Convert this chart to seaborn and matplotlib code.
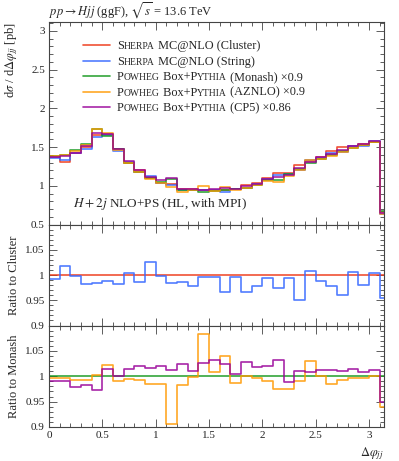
import numpy as np
import pandas as pd
import matplotlib
matplotlib.use("Agg")
import matplotlib.pyplot as plt
import seaborn as sns
from matplotlib.ticker import MultipleLocator, FuncFormatter

# bin edges in delta phi_jj (last bin ends at pi)
edges = [0.0, 0.1, 0.2, 0.3, 0.4, 0.5, 0.6, 0.7, 0.8, 0.9, 1.0, 1.1, 1.2, 1.3, 1.4, 1.5,
         1.6, 1.7, 1.8, 1.9, 2.0, 2.1, 2.2, 2.3, 2.4, 2.5, 2.6, 2.7, 2.8, 2.9, 3.0, 3.1, np.pi]

# Sherpa cluster (absolute, pb)
cluster = [1.37, 1.31, 1.42, 1.50, 1.66, 1.67, 1.48, 1.30, 1.20, 1.10, 1.04, 1.02, 0.96, 0.96,
           0.95, 0.95, 0.95, 0.96, 1.01, 1.04, 1.10, 1.165, 1.165, 1.27, 1.32, 1.37, 1.45,
           1.50, 1.51, 1.54, 1.57, 0.66]
# Sherpa string / cluster
ratio_string = [0.992, 1.018, 0.999, 0.982, 0.984, 0.988, 0.983, 1.004, 0.987, 1.026, 0.998,
                0.985, 0.987, 0.979, 0.997, 0.9965, 0.967, 0.997, 0.967, 0.978, 0.994, 0.974,
                0.994, 0.950, 1.008, 0.988, 0.979, 0.960, 1.005, 0.981, 1.003, 0.954]
# Powheg+Pythia Monash (x0.9, absolute)
monash = [1.39, 1.40, 1.46, 1.54, 1.73, 1.645, 1.47, 1.30, 1.18, 1.10, 1.05, 1.085, 0.94, 0.95,
          0.915, 0.93, 0.95, 0.96, 0.97, 1.01, 1.07, 1.08, 1.15, 1.22, 1.30, 1.35, 1.40, 1.45,
          1.49, 1.53, 1.56, 0.68]
# AZNLO / Monash
ratio_aznlo = [0.997, 0.997, 0.992, 0.992, 1.003, 1.023, 0.991, 0.995, 0.993, 0.984, 0.985,
               0.905, 0.983, 0.999, 1.083, 1.008, 1.040, 0.987, 1.000, 0.997, 0.991, 0.975,
               0.975, 0.991, 1.030, 1.000, 0.985, 0.992, 0.997, 0.997, 1.001, 0.939]
# CP5 / Monash
ratio_cp5 = [0.991, 0.991, 0.978, 0.983, 0.973, 1.015, 1.000, 1.015, 1.020, 1.017, 1.020,
             1.012, 1.025, 1.010, 1.027, 1.032, 1.025, 1.005, 1.029, 1.018, 1.020, 1.033,
             0.988, 1.010, 1.009, 1.012, 1.012, 1.011, 1.015, 1.009, 1.013, 0.950]

c_red, c_blue, c_green, c_orange, c_purple = "#EE3311", "#3366FF", "#109618", "#FF9900", "#990099"

sns.set_theme(style="ticks")
plt.rcParams["font.family"] = ["Liberation Serif", "DejaVu Serif"]
plt.rcParams["mathtext.fontset"] = "stix"
plt.rcParams["axes.edgecolor"] = "#444444"
plt.rcParams["xtick.color"] = "#444444"
plt.rcParams["ytick.color"] = "#444444"
plt.rcParams["xtick.labelcolor"] = "#222222"
plt.rcParams["ytick.labelcolor"] = "#222222"

fig = plt.figure(figsize=(3.99, 4.61), dpi=100)
left, width = 0.1228, 0.8396
ax1 = fig.add_axes([left, 0.5130, width, 0.9523 - 0.5130])
ax2 = fig.add_axes([left, 0.2939, width, 0.5130 - 0.2939])
ax3 = fig.add_axes([left, 0.0738, width, 0.2939 - 0.0738])


def hist(ax, vals, color, z=2):
    df = pd.DataFrame({"x": edges, "y": list(vals) + [vals[-1]]})
    sns.lineplot(data=df, x="x", y="y", drawstyle="steps-post", color=color,
                 lw=1.2, alpha=0.85, ax=ax, legend=False, zorder=z)


string = np.array(cluster) * np.array(ratio_string)
aznlo = np.array(monash) * np.array(ratio_aznlo)
cp5 = np.array(monash) * np.array(ratio_cp5)

hist(ax1, cluster, c_red)
hist(ax1, string, c_blue)
hist(ax1, monash, c_green)
hist(ax1, aznlo, c_orange)
hist(ax1, cp5, c_purple)

hist(ax2, [1.0] * len(cluster), c_red)
hist(ax2, ratio_string, c_blue)

hist(ax3, [1.0] * len(monash), c_green)
hist(ax3, ratio_aznlo, c_orange)
hist(ax3, ratio_cp5, c_purple)

fmt = FuncFormatter(lambda v, p: "%g" % round(v, 3))
for ax in (ax1, ax2, ax3):
    ax.set_xlim(0, np.pi)
    ax.xaxis.set_major_locator(MultipleLocator(0.5))
    ax.xaxis.set_minor_locator(MultipleLocator(0.1))
    ax.tick_params(which="both", direction="in", top=True, right=True, labelsize=8,
                   width=0.6, pad=3)
    ax.tick_params(which="major", length=6)
    ax.tick_params(which="minor", length=3)
    ax.yaxis.set_major_formatter(fmt)
    ax.xaxis.set_major_formatter(fmt)
    ax.set_xlabel("")
    for s in ax.spines.values():
        s.set_linewidth(0.8)

ax1.set_ylim(0.5, 3.115)
ax1.yaxis.set_major_locator(MultipleLocator(0.5))
ax1.yaxis.set_minor_locator(MultipleLocator(0.1))
ax1.tick_params(labelbottom=False)
ax2.tick_params(labelbottom=False)

for ax in (ax2, ax3):
    ax.set_ylim(0.9, 1.1)
    ax.set_yticks([0.9, 0.95, 1.0, 1.05])
    ax.yaxis.set_minor_locator(MultipleLocator(0.01))

ax1.set_ylabel(r"d$\sigma$ / d$\Delta\varphi_{jj}$ [pb]", fontsize=9, loc="top")
ax2.set_ylabel("Ratio to Cluster", fontsize=9)
ax3.set_ylabel("Ratio to Monash", fontsize=9)
for ax in (ax1, ax2, ax3):
    ax.yaxis.set_label_coords(-0.088, 1.0 if ax is ax1 else 0.5)
ax3.set_xlabel(r"$\Delta\varphi_{jj}$", fontsize=9, loc="right")

ax1.text(0.0, 1.03, r"$pp \rightarrow Hjj$ (ggF), $\sqrt{s}$ = 13.6 TeV",
         transform=ax1.transAxes, fontsize=9, ha="left", va="baseline")
ax1.text(0.072, 0.086, r"$H + 2j$ NLO+PS (HL, with MPI)", transform=ax1.transAxes,
         fontsize=9.5, ha="left", va="baseline")

# legend with small caps built from text pieces
renderer = fig.canvas.get_renderer()
inv = ax1.transAxes.inverted()
full, small = 8.8, 6.9
legend_rows = [
    (c_red, [("S", full), ("HERPA", small), (" MC@NLO (Cluster)", full)]),
    (c_blue, [("S", full), ("HERPA", small), (" MC@NLO (String)", full)]),
    (c_green, [("P", full), ("OWHEG", small), (" Box+P", full), ("YTHIA", small),
               (" (Monash) ×0.9", full)]),
    (c_orange, [("P", full), ("OWHEG", small), (" Box+P", full), ("YTHIA", small),
                (" (AZNLO) ×0.9", full)]),
    (c_purple, [("P", full), ("OWHEG", small), (" Box+P", full), ("YTHIA", small),
                (" (CP5) ×0.86", full)]),
]
y = 0.886
for color, pieces in legend_rows:
    ax1.plot([0.101, 0.182], [y, y], color=color, lw=1.2, alpha=0.85,
             transform=ax1.transAxes)
    x = 0.203
    for txt, size in pieces:
        t = ax1.text(x, y - 0.02, txt, transform=ax1.transAxes, fontsize=size,
                     ha="left", va="baseline")
        bb = t.get_window_extent(renderer)
        x = inv.transform((bb.x1, bb.y0))[0]
    y -= 0.0765

fig.savefig("out.png", dpi=100)
